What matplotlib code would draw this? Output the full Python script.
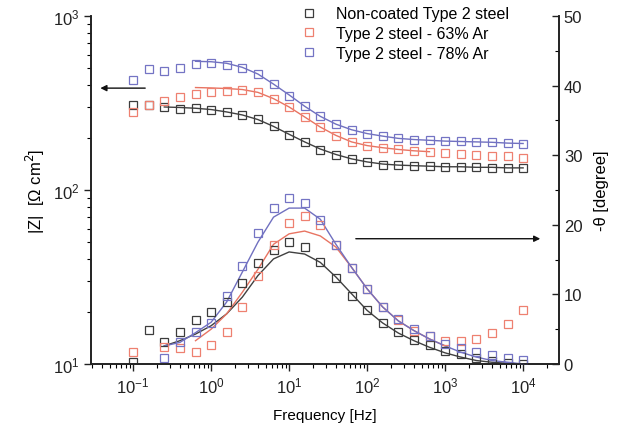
import numpy as np
import matplotlib
matplotlib.use("Agg")
import matplotlib.pyplot as plt

plt.rcParams['font.family'] = ['Liberation Sans', 'DejaVu Sans']

# measured frequencies (5 per decade)
freq = [0.1, 0.158, 0.251, 0.398, 0.631, 1.0, 1.58, 2.51, 3.98, 6.31,
        10, 15.8, 25.1, 39.8, 63.1, 100, 158, 251, 398, 631,
        1000, 1580, 2510, 3980, 6310, 10000]

labels = ["Non-coated Type 2 steel", "Type 2 steel - 63% Ar", "Type 2 steel - 78% Ar"]

# |Z| data [ohm cm2]
z_black = [308, 306, 299, 292, 295, 289, 280, 271, 256, 232, 208, 188, 170, 159,
           151, 145, 140, 139, 138, 137, 136, 136, 135, 134, 134, 134]
z_red = [280, 308, 325, 342, 357, 367, 372, 376, 364, 334, 299, 262, 229, 205,
         189, 180, 174, 172, 168, 166, 163, 160, 159, 157, 156, 153]
z_blue = [430, 495, 486, 502, 529, 535, 525, 502, 464, 406, 348, 303, 265, 239,
          222, 210, 204, 198, 195, 193, 191, 190, 189, 188, 186, 185]

# -theta data [degree]
ph_black = [0.3, 4.9, 3.2, 4.55, 6.3, 7.4, 8.95, 11.7, 14.5, 16.4, 17.5, 16.8, 14.7,
            12.3, 9.8, 7.7, 5.9, 4.55, 3.5, 2.7, 1.9, 1.4, 0.8, 0.5, 0.15, 0.05]
ph_red = [1.7, np.nan, 2.5, 2.25, 1.7, 2.8, 4.55, 8.2, 12.6, 17.1, 20.3, 21.2, 20.0,
          17.1, 13.8, 10.8, 8.2, 6.3, 4.8, 4.0, 3.35, 3.35, 3.6, 4.4, 5.7, 7.7]
ph_blue = [np.nan, np.nan, 0.9, 3.1, 4.55, 5.9, 9.7, 14.1, 18.8, 22.4, 23.85, 23.2, 20.7,
           17.1, 13.8, 10.8, 8.2, 6.5, 5.0, 4.0, 2.9, 2.3, 1.7, 1.3, 0.85, 0.6]

# fitted curves (start index into freq, values)
zfit_black = (2, [300, 298, 295, 290, 281, 270, 254, 232, 209, 189, 172, 160, 151, 145,
                  141, 139, 138, 137, 136, 136, 135, 135, 134, 134])
zfit_red = (4, [388, 386, 383, 378, 364, 335, 300, 263, 230, 206, 189, 180, 175, 171,
                168, 166])
zfit_blue = (4, [549, 546, 535, 507, 464, 406, 352, 303, 265, 239, 222, 211, 204, 198,
                 195, 193, 191, 190, 189, 188, 186, 185])
pfit_black = (2, [2.6, 3.35, 4.3, 5.5, 7.2, 9.6, 12.7, 15.1, 16.1, 15.8, 14.6, 12.5, 10.1,
                  7.7, 5.9, 4.45, 3.35, 2.4, 1.6, 1.0, 0.5, 0.25, 0.1, 0.0])
pfit_red = (4, [3.35, 5.0, 7.2, 10.3, 13.6, 17.2, 18.7, 19.1, 18.4, 16.8, 13.9, 10.8, 8.2,
                6.2, 4.8, 3.6, 2.6])
pfit_blue = (2, [2.6, 3.1, 4.5, 6.0, 8.9, 13.2, 17.5, 21.1, 22.4, 22.4, 20.8, 17.2, 13.9,
                 10.8, 8.2, 6.2, 4.8, 3.6, 2.6, 1.7, 1.0, 0.5, 0.25, 0.0])

c_black, c_red, c_blue = '#3c3c3c', '#ee8070', '#7474c4'
l_black, l_red, l_blue = '#404040', '#e87462', '#7070c0'

W, H = 631, 435
fig = plt.figure(figsize=(W / 100, H / 100), dpi=100)
ax = fig.add_axes([91 / W, 1 - 365 / H, (559 - 91) / W, (365 - 17) / H])
ax2 = ax.twinx()

mk = dict(marker='s', linestyle='none', markersize=6.2, markerfacecolor='none',
          markeredgewidth=0.9)

f = np.array(freq)


def fit(axis, spec, color):
    start, vals = spec
    axis.plot(f[start:start + len(vals)], vals, color=color, lw=1.0)


fit(ax, zfit_black, l_black)
fit(ax, zfit_red, l_red)
fit(ax, zfit_blue, l_blue)
fit(ax2, pfit_black, l_black)
fit(ax2, pfit_red, l_red)
fit(ax2, pfit_blue, l_blue)

h1, = ax.plot(f, z_black, markeredgecolor=c_black, **mk)
h2, = ax.plot(f, z_red, markeredgecolor=c_red, **mk)
h3, = ax.plot(f, z_blue, markeredgecolor=c_blue, **mk)
ax2.plot(f, ph_black, markeredgecolor=c_black, **mk)
ax2.plot(f, ph_red, markeredgecolor=c_red, **mk)
ax2.plot(f, ph_blue, markeredgecolor=c_blue, **mk)

ax.set_xscale('log')
ax.set_yscale('log')
ax.set_xlim(10 ** -1.54, 10 ** 4.46)
ax.set_ylim(10, 1000)
ax2.set_ylim(0, 50)
ax2.set_yticks([0, 10, 20, 30, 40, 50])
ax2.set_yticks([5, 15, 25, 35, 45], minor=True)
ax.set_xticks([0.1, 1, 10, 100, 1000, 10000])

for a in (ax, ax2):
    a.spines['top'].set_visible(False)
    for s in a.spines.values():
        s.set_linewidth(1.2)
        s.set_color('#222222')

ax.tick_params(axis='both', which='major', direction='out', length=5, width=1,
               labelsize=12, colors='#222222')
ax.tick_params(axis='both', which='minor', direction='out', length=3, width=0.8)
ax2.tick_params(axis='y', which='major', direction='in', length=5, width=1,
                labelsize=12, colors='#222222')
ax2.tick_params(axis='y', which='minor', direction='in', length=3, width=0.8)

ax.set_xlabel('Frequency [Hz]', fontsize=11, labelpad=9)
ax.set_ylabel('|Z|  [Ω cm$^2$]', fontsize=12, labelpad=4)
ax2.set_ylabel('-θ [degree]', fontsize=12, labelpad=8)

arr = dict(arrowstyle='-|>', color='#111111', lw=1.0, mutation_scale=9)
ax.annotate('', xy=(0.035, 385), xytext=(0.155, 385), arrowprops=arr)
ax2.annotate('', xy=(18000, 18), xytext=(66, 18), arrowprops=arr)

fig.legend([h1, h2, h3], labels, loc='upper left',
           bbox_to_anchor=(298 / W, 1 - 4 / H), frameon=False, fontsize=11.5,
           handlelength=1.0, handletextpad=1.2, labelspacing=0.3,
           borderaxespad=0, borderpad=0.2)

fig.savefig('out.png', dpi=100)
